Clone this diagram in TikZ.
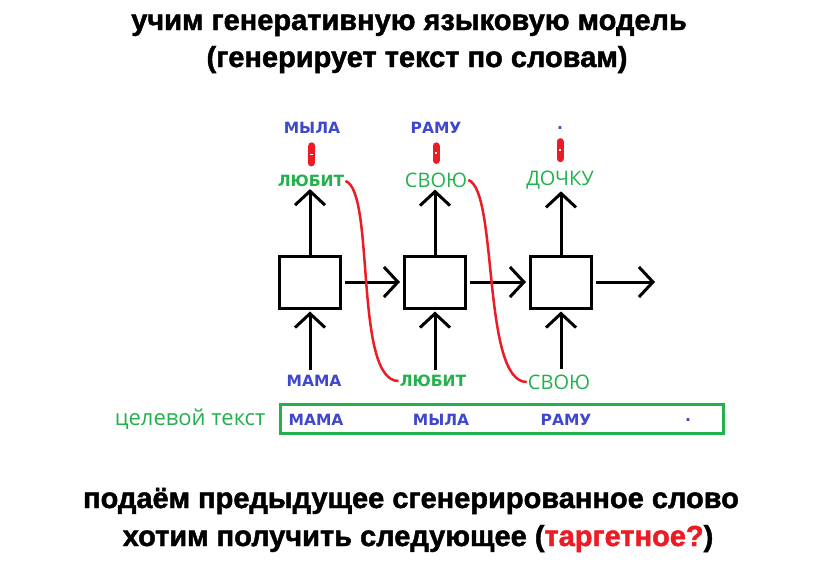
\documentclass[tikz,border=0pt]{standalone}
\usepackage{fontspec}
\setmainfont{Liberation Sans}[BoldFeatures={FakeBold=1.6}]
\newfontfamily\wordfont{DejaVu Sans}
\newfontfamily\plainfont{Open Sans}
\usetikzlibrary{positioning,arrows.meta}

\definecolor{wblue}{RGB}{63,72,204}
\definecolor{wgreen}{RGB}{34,177,76}
\definecolor{wred}{RGB}{237,28,36}

\begin{document}
\begin{tikzpicture}[
	x=1pt, y=-1pt,
	cell/.style={draw, line width=3pt, minimum width=61pt, minimum height=52pt, inner sep=0pt},
	target/.style={text=wblue, inner sep=1pt, font=\wordfont\bfseries\fontsize{15.5}{18}\selectfont},
	guess/.style={text=wgreen, inner sep=1pt, font=\plainfont\fontsize{20}{24}\selectfont},
	guessb/.style={text=wgreen, inner sep=1pt, font=\wordfont\bfseries\fontsize{15.5}{18}\selectfont},
	headline/.style={anchor=base, inner sep=0pt, font=\bfseries\fontsize{29}{34}\selectfont},
	flow/.style={-{Straight Barb[length=14pt,width=30pt]}, line width=3pt},
	feed/.style={wred, line width=2.5pt},
	check/.style={wred, line width=7pt, line cap=round, shorten <=11pt, shorten >=11pt}
	]
	\useasboundingbox (0,0) rectangle (821,566);
	
	% headings
	\node[headline] (h1) at (409,30) {учим генеративную языковую модель};
	\node[headline] (h2) at (417,67) {(генерирует текст по словам)};
	
	% recurrent cells
	\node[cell] (c1) at (310,282) {};
	\node[cell] (c2) at (435,282) {};
	\node[cell] (c3) at (561,282) {};
	\coordinate (out) at (655,282);
	
	% inputs
	\node[target] (i1) at (314,381) {МАМА};
	\node[guessb] (i2) at (433,381) {ЛЮБИТ};
	\node[guess] (i3) at (559,382) {СВОЮ};
	
	% outputs
	\node[guessb] (o1) at (311,181) {ЛЮБИТ};
	\node[guess] (o2) at (436,180) {СВОЮ};
	\node[guess] (o3) at (560,180) {ДОЧКУ};
	
	% targets
	\node[target] (t1) at (312,128) {МЫЛА};
	\node[target] (t2) at (436,128) {РАМУ};
	\node[target] (t3) at (560,128) {.};
	
	% target text
	\node[draw=wgreen, line width=3pt, minimum width=443pt, minimum height=29pt] (tgt) at (502,419) {};
	\node[text=wgreen, font=\plainfont\fontsize{22}{26}\selectfont, left=10pt of tgt] (tl) {целевой текст};
	\node[target] (w1) at (316,420) {МАМА};
	\node[target] (w2) at (441,420) {МЫЛА};
	\node[target] (w3) at (566,420) {РАМУ};
	\node[target] (w4) at (688,420) {.};
	
	% bottom text
	\node[headline] (b1) at (411,508) {подаём предыдущее сгенерированное слово};
	\node[headline] (b2) at (418,546) {хотим получить следующее (\textcolor{wred}{таргетное?})};
	
	\path (c1) edge[flow, shorten <=3pt, shorten >=3pt] (c2)
	(c2) edge[flow, shorten <=3pt, shorten >=3pt] (c3)
	(c3) edge[flow, shorten <=3pt] (out)
	(i1.north -| c1) edge[flow, shorten <=4pt, shorten >=2pt] (c1)
	(i2.north -| c2) edge[flow, shorten <=4pt, shorten >=2pt] (c2)
	(i3.north -| c3) edge[flow, shorten <=4pt, shorten >=2pt] (c3)
	(c1) edge[flow, shorten >=1pt] (o1.south -| c1)
	(c2) edge[flow, shorten >=1pt] (o2.south -| c2)
	(c3) edge[flow, shorten >=1pt] (o3.south -| c3);
	
	% fed back words
	\draw[feed] (o1.east) .. controls +(30,10) and +(-45,0) .. (i2.west);
	\draw[feed] (o2.east) .. controls +(30,10) and +(-45,0) .. (i3.west);
	
	% comparisons
	\foreach \k in {1,2,3}{
		\draw[check] (o\k) -- node[fill=white, inner sep=0pt, minimum width=2.5pt, minimum height=1.5pt] {} (t\k);
	}
\end{tikzpicture}
\end{document}
